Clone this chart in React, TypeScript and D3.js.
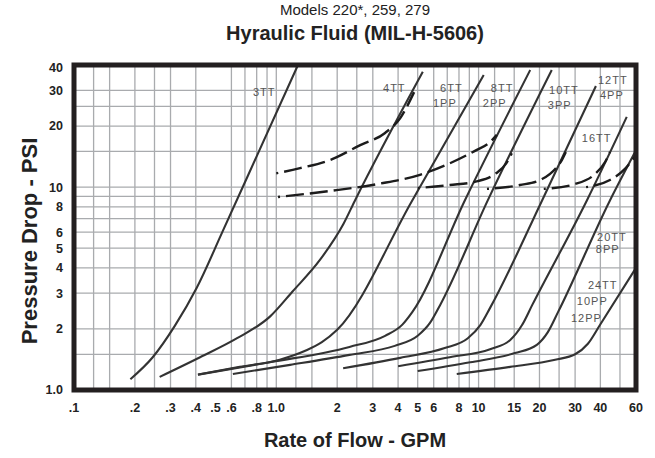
import React, { useEffect, useRef } from "react";
import * as d3 from "d3";

type Pt = [number, number];

// axis ticks (GPM on x, PSI on y), log-log
const flowTicks = [0.1, 0.2, 0.3, 0.4, 0.5, 0.6, 0.8, 1, 2, 3, 4, 5, 6, 8, 10, 15, 20, 30, 40, 60];
const flowTickLabels = [".1", ".2", ".3", ".4", ".5", ".6", ".8", "1.0", "2", "3", "4", "5", "6", "8", "10", "15", "20", "30", "40", "60"];
const psiTicks = [1, 2, 3, 4, 5, 6, 8, 10, 20, 30, 40];
const psiTickLabels = ["1.0", "2", "3", "4", "5", "6", "8", "10", "20", "30", "40"];

const flowGrid = [0.125, 0.15, 0.2, 0.25, 0.3, 0.4, 0.6, 0.7, 0.8, 0.9, 1, 1.25, 1.5, 2, 2.5, 3, 4, 5, 6, 7, 8, 9, 10, 12, 15, 20, 25, 30, 40, 50];
const psiGrid = [1.5, 2, 3, 4, 5, 6, 7, 8, 9, 10, 15, 20, 25, 30];

// element curves [gpm, psi]
const curve3TT: Pt[] = [[0.19, 1.13], [0.245, 1.45], [0.315, 2.07], [0.405, 3.2], [0.545, 6.1], [0.83, 15.4], [1.28, 40]];
const curve4TT: Pt[] = [[0.265, 1.16], [0.42, 1.45], [0.64, 1.8], [0.93, 2.3], [1.2, 3.05], [1.65, 4.4], [2.15, 6.6], [2.45, 8.6], [5.3, 37]];
const curve6TT: Pt[] = [[0.41, 1.19], [0.66, 1.3], [1.04, 1.41], [1.39, 1.56], [1.68, 1.72], [2.0, 1.98], [4.7, 8.6], [10.6, 35.7]];
const curve8TT: Pt[] = [[0.41, 1.19], [0.93, 1.37], [2.3, 1.63], [3.45, 1.85], [4.2, 2.1], [4.7, 2.42], [8.55, 8.6], [18, 37.8]];
const curve10TT: Pt[] = [[0.61, 1.2], [1.17, 1.33], [2.3, 1.49], [3.85, 1.65], [5.0, 1.85], [5.75, 2.14], [6.45, 2.62], [11.1, 8.6], [23, 37.8]];
const curve12TT: Pt[] = [[2.14, 1.28], [4.1, 1.44], [6.8, 1.61], [8.85, 1.8], [10.2, 2.09], [11.4, 2.54], [20.6, 8.6], [38, 31.5]];
const curve16TT: Pt[] = [[4.0, 1.31], [7.2, 1.45], [11.4, 1.59], [14.3, 1.76], [16.4, 2.09], [18.4, 2.62], [34.3, 8.6], [54, 22.2]];
const curve20TT: Pt[] = [[5.0, 1.24], [9.1, 1.37], [15.1, 1.52], [19.4, 1.67], [22, 1.93], [24.7, 2.42], [44.6, 8.6], [60, 15.2]];
const curve24TT: Pt[] = [[7.8, 1.2], [14.3, 1.3], [23.9, 1.41], [30, 1.5], [34.7, 1.69], [39.8, 2.09], [60, 4.0]];

// dashed limit lines
const dashA: Pt[] = [[1.0, 11.7], [1.31, 12.4], [1.84, 13.6], [2.6, 16.1], [3.45, 18.5], [4.1, 21.9], [4.8, 29.4]];
const dashB: Pt[] = [[1.02, 8.94], [1.84, 9.57], [3.25, 10.4], [5.13, 11.5], [7.2, 13.1], [9.6, 15.1], [11.4, 16.7], [12.3, 18.1]];
const dashC: Pt[] = [[5.0, 9.9], [7.2, 10.24], [9.9, 10.7], [12.2, 11.7], [13.7, 13.1], [14.6, 14.7]];
const dashD: Pt[] = [[11, 9.8], [16, 10.24], [20.6, 10.96], [24.1, 12.4], [25.8, 13.6], [27, 14.9]];
const dashE: Pt[] = [[21, 9.8], [30, 10.36], [37.6, 11.6], [42.2, 13.3], [44.6, 14.9]];
const dashF: Pt[] = [[34, 10.0], [44.6, 10.84], [52.9, 12.3], [60, 14.4]];

// curve captions: text, gpm, psi (left edge / baseline)
const curveLabels: [string, number, number][] = [
  ["3TT", 0.767, 28.1],
  ["4TT", 3.37, 29.4],
  ["6TT", 6.45, 29.4],
  ["1PP", 5.95, 24.8],
  ["8TT", 11.5, 29.4],
  ["2PP", 10.5, 24.8],
  ["10TT", 22.3, 28.8],
  ["3PP", 22.0, 24.3],
  ["12TT", 38.9, 32.2],
  ["4PP", 39.8, 27.2],
  ["16TT", 32.4, 16.7],
  ["20TT", 38.5, 5.42],
  ["8PP", 38.0, 4.73],
  ["24TT", 34.7, 3.15],
  ["10PP", 30.6, 2.62],
  ["12PP", 28.6, 2.16],
];

const W = 655;
const H = 458;
const FONT = "'Liberation Sans', Arial, Helvetica, sans-serif";

export default function App() {
  const svgRef = useRef<SVGSVGElement | null>(null);

  useEffect(() => {
    if (!svgRef.current) return;
    const svg = d3.select(svgRef.current);
    svg.selectAll("*").remove();

    const x = d3.scaleLog().domain([0.1, 60]).range([74, 636]);
    const y = d3.scaleLog().domain([1, 40]).range([390, 65]);

    svg.append("rect").attr("width", W).attr("height", H).attr("fill", "#fff");

    // grid
    const grid = svg.append("g").attr("stroke", "#a9abae").attr("stroke-width", 1.3);
    flowGrid.forEach((v) => {
      grid.append("line")
        .attr("x1", x(v)).attr("x2", x(v))
        .attr("y1", y(40)).attr("y2", y(1));
    });
    psiGrid.forEach((v) => {
      grid.append("line")
        .attr("x1", x(0.1)).attr("x2", x(60))
        .attr("y1", y(v)).attr("y2", y(v));
    });

    const line = d3.line<Pt>()
      .x((d) => x(d[0]))
      .y((d) => y(d[1]))
      .curve(d3.curveMonotoneX);

    // solid element curves
    [curve3TT, curve4TT, curve6TT, curve8TT, curve10TT, curve12TT, curve16TT, curve20TT, curve24TT].forEach((c) => {
      svg.append("path")
        .datum(c)
        .attr("d", line)
        .attr("fill", "none")
        .attr("stroke", "#333")
        .attr("stroke-width", 2.1);
    });

    // dashed curves (short dot at start, then long dashes)
    [dashA, dashB, dashC, dashD, dashE, dashF].forEach((c) => {
      svg.append("path")
        .datum(c)
        .attr("d", line)
        .attr("fill", "none")
        .attr("stroke", "#1c1c1c")
        .attr("stroke-width", 2.4)
        .attr("stroke-dasharray", "18 6")
        .attr("stroke-dashoffset", 16);
    });

    // curve captions
    const lbl = svg.append("g")
      .attr("font-family", FONT)
      .attr("font-size", 11)
      .attr("letter-spacing", 1)
      .attr("fill", "#555");
    curveLabels.forEach(([t, gx, gy]) => {
      lbl.append("text")
        .attr("x", x(gx))
        .attr("y", y(gy))
        .text(t);
    });

    // frame
    svg.append("rect")
      .attr("x", x(0.1))
      .attr("y", y(40))
      .attr("width", x(60) - x(0.1))
      .attr("height", y(1) - y(40))
      .attr("fill", "none")
      .attr("stroke", "#231f20")
      .attr("stroke-width", 5);

    // tick labels
    const xt = svg.append("g")
      .attr("font-family", FONT)
      .attr("font-weight", "bold")
      .attr("font-size", 12.5)
      .attr("fill", "#222")
      .attr("text-anchor", "middle");
    flowTicks.forEach((v, i) => {
      xt.append("text").attr("x", x(v)).attr("y", 412).text(flowTickLabels[i]);
    });

    const yt = svg.append("g")
      .attr("font-family", FONT)
      .attr("font-weight", "bold")
      .attr("font-size", 12.5)
      .attr("fill", "#222")
      .attr("text-anchor", "end");
    psiTicks.forEach((v, i) => {
      yt.append("text")
        .attr("x", 63)
        .attr("y", y(v) + (v === 40 ? 3 : 0))
        .attr("dy", "0.35em")
        .text(psiTickLabels[i]);
    });

    // titles
    const cx = (x(0.1) + x(60)) / 2;
    svg.append("text")
      .attr("x", cx).attr("y", 15)
      .attr("text-anchor", "middle")
      .attr("font-family", FONT)
      .attr("font-size", 15)
      .attr("fill", "#222")
      .text("Models 220*, 259, 279");

    svg.append("text")
      .attr("x", cx).attr("y", 40)
      .attr("text-anchor", "middle")
      .attr("font-family", FONT)
      .attr("font-weight", "bold")
      .attr("font-size", 20)
      .attr("fill", "#222")
      .text("Hyraulic Fluid (MIL-H-5606)");

    svg.append("text")
      .attr("x", cx).attr("y", 447)
      .attr("text-anchor", "middle")
      .attr("font-family", FONT)
      .attr("font-weight", "bold")
      .attr("font-size", 20)
      .attr("fill", "#222")
      .text("Rate of Flow - GPM");

    svg.append("text")
      .attr("transform", "translate(37,241) rotate(-90)")
      .attr("text-anchor", "middle")
      .attr("font-family", FONT)
      .attr("font-weight", "bold")
      .attr("font-size", 22)
      .attr("fill", "#222")
      .text("Pressure Drop - PSI");
  }, []);

  return (
    <svg
      ref={svgRef}
      width={W}
      height={H}
      style={{ position: "absolute", left: 0, top: 0, display: "block" }}
    />
  );
}
